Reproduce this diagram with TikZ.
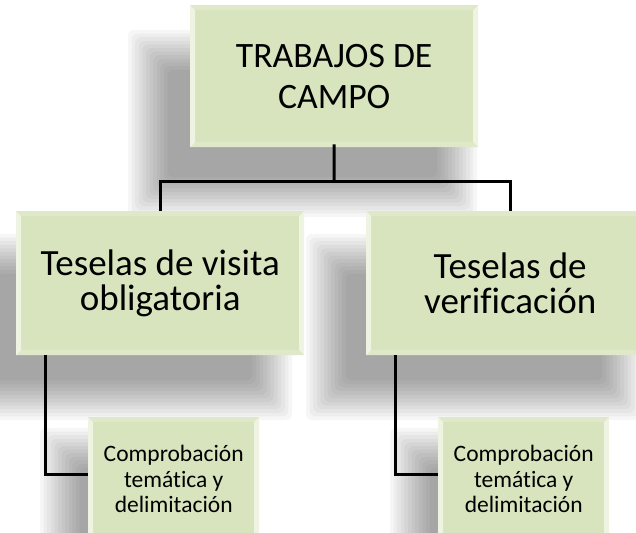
\documentclass[tikz,border=0pt]{standalone}
\usepackage{fontspec}
\newfontfamily\carlito[Ligatures=NoCommon]{Carlito}
\definecolor{boxgreen}{HTML}{D7E4BD}
\definecolor{bevlight}{HTML}{EEF3E2}
\definecolor{bevtop}{HTML}{DFE9CA}
\newcommand\softshadow[4]{%
  \foreach \i in {0,...,11}{%
    \fill[black,opacity=0.035,rounded corners=6pt]
      ({#1-22+3.6*\i},{#2-22+3.6*\i}) rectangle ({#3+22-3.6*\i},{#4+22-3.6*\i});
  }%
}
\tikzset{
  boxbevel/.style={path picture={
    \coordinate (bnw) at (path picture bounding box.north west);
    \coordinate (bne) at (path picture bounding box.north east);
    \coordinate (bsw) at (path picture bounding box.south west);
    \coordinate (bse) at (path picture bounding box.south east);
    \fill[bevtop] (bnw) -- (bne) -- ([shift={(-5pt,-5pt)}]bne) -- ([shift={(5pt,-5pt)}]bnw) -- cycle;
    \fill[bevtop] (bsw) -- (bse) -- ([shift={(-5pt,5pt)}]bse) -- ([shift={(5pt,5pt)}]bsw) -- cycle;
    \fill[bevlight] (bnw) -- ([shift={(5pt,-5pt)}]bnw) -- ([shift={(5pt,5pt)}]bsw) -- (bsw) -- cycle;
    \fill[bevlight] (bne) -- ([shift={(-5pt,-5pt)}]bne) -- ([shift={(-5pt,5pt)}]bse) -- (bse) -- cycle;
  }},
  greenbox/.style={fill=boxgreen, boxbevel, inner sep=0pt, anchor=north west, align=center, text=black},
  conn/.style={line width=3pt, draw=black}
}
\begin{document}
\begin{tikzpicture}[x=1pt,y=-1pt]
\useasboundingbox (0,0) rectangle (636,532);
\clip (0,0) rectangle (636,532);
% shadows
\softshadow{150}{52}{455}{195}
\softshadow{-22}{256}{270}{398}
\softshadow{328}{256}{620}{398}
\softshadow{62}{450}{230}{565}
\softshadow{412}{450}{580}{565}
% boxes
\node[greenbox, minimum width=288pt, minimum height=142pt,
      font={\carlito\fontsize{35.7}{41}\selectfont}] (top) at (190,5) {TRABAJOS DE\\CAMPO};
\node[greenbox, minimum width=288pt, minimum height=144pt,
      font={\carlito\fontsize{37}{35}\selectfont}] (L) at (16,211) {Teselas de visita\\obligatoria};
\node[greenbox, minimum width=288pt, minimum height=144pt,
      font={\carlito\fontsize{37}{35}\selectfont}] (R) at (366,211) {Teselas de\\verificación};
\node[greenbox, minimum width=171pt, minimum height=124pt,
      font={\carlito\fontsize{23.5}{25.5}\selectfont}] (LL) at (88,417) {Comprobación\\temática y\\delimitación};
\node[greenbox, minimum width=171pt, minimum height=124pt,
      font={\carlito\fontsize{23.5}{25.5}\selectfont}] (RR) at (438,417) {Comprobación\\temática y\\delimitación};
% connectors
\coordinate (bar) at (334,181);
\draw[conn] ([yshift=3pt]top.south) -- (bar);
\draw[conn] (L.north) |- (bar) -| (R.north);
\draw[conn] ([xshift=29pt]L.south west) |- ([yshift=5pt]LL.west);
\draw[conn] ([xshift=29pt]R.south west) |- ([yshift=5pt]RR.west);
\end{tikzpicture}
\end{document}
